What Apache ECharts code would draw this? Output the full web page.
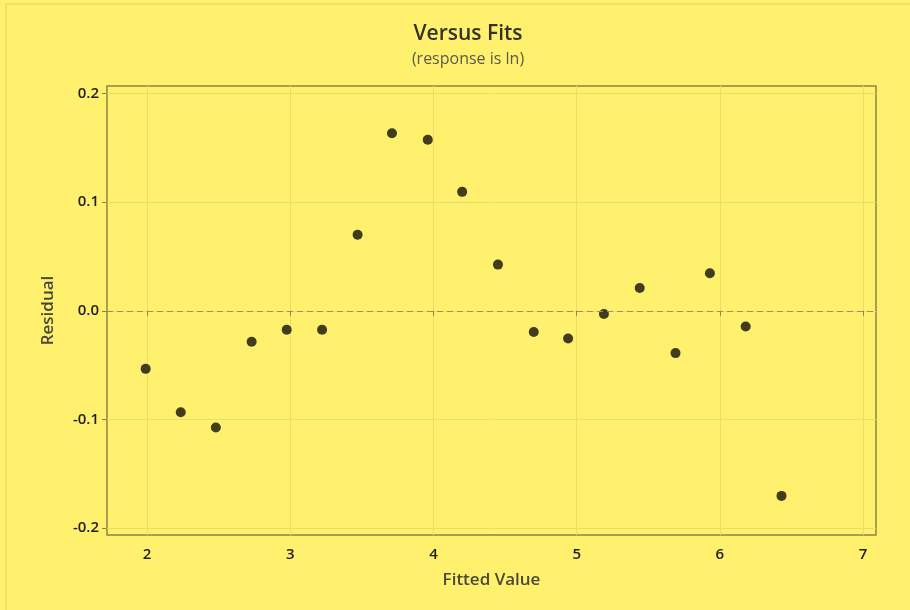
<!DOCTYPE html>
<html>
<head>
<meta charset="utf-8">
<script src="https://cdn.jsdelivr.net/npm/echarts@6/dist/echarts.min.js"></script>
<style>html,body{margin:0;padding:0;background:#FFF06E;}#c{width:910px;height:610px;}</style>
</head>
<body>
<div id="c"></div>
<script>
const fittedValues = [1.99, 2.235, 2.48, 2.73, 2.975, 3.222, 3.47, 3.71, 3.96, 4.20, 4.45, 4.70, 4.94, 5.19, 5.44, 5.69, 5.93, 6.18, 6.43];
const residuals = [-0.0535, -0.0935, -0.1075, -0.0285, -0.0175, -0.0175, 0.0700, 0.1635, 0.1575, 0.1095, 0.0425, -0.0195, -0.0255, -0.0030, 0.0210, -0.0390, 0.0345, -0.0145, -0.1705];
const xTicks = [2, 3, 4, 5, 6, 7];
const yTicks = [-0.2, -0.1, 0.0, 0.1, 0.2];

const points = fittedValues.map((v, i) => [v, residuals[i]]);
const fontFam = '"Open Sans", "Noto Sans", sans-serif';

const chart = echarts.init(document.getElementById('c'), null, {renderer: 'canvas'});
chart.setOption({
  backgroundColor: '#FFF06E',
  animation: false,
  title: {
    text: 'Versus Fits',
    subtext: '(response is ln)',
    left: 463,
    textAlign: 'center',
    top: 19,
    itemGap: 6,
    textStyle: {fontFamily: fontFam, fontSize: 21, fontWeight: 600, color: '#333328'},
    subtextStyle: {fontFamily: fontFam, fontSize: 16, color: '#5c5a48'}
  },
  graphic: [
    {type: 'line', shape: {x1: 6, y1: 4, x2: 910, y2: 4}, style: {stroke: '#e2d35a', lineWidth: 1}, silent: true},
    {type: 'line', shape: {x1: 6, y1: 4, x2: 6, y2: 610}, style: {stroke: '#e2d35a', lineWidth: 1}, silent: true}
  ],
  grid: {
    left: 107, right: 34, top: 86, bottom: 75,
    show: true, backgroundColor: 'transparent', borderColor: '#8d8545', borderWidth: 1.5
  },
  xAxis: {
    type: 'value', min: 1.72, max: 7.09,
    name: 'Fitted Value', nameLocation: 'middle', nameGap: 37,
    nameTextStyle: {fontFamily: fontFam, fontSize: 17, fontWeight: 600, color: '#4a4836'},
    axisLine: {show: false},
    axisTick: {show: true, customValues: xTicks, length: 5, lineStyle: {color: '#8d8545'}},
    axisLabel: {customValues: xTicks, fontFamily: fontFam, fontSize: 15, fontWeight: 600, color: '#1e1e1a', margin: 12,
      formatter: v => String(v)},
    splitLine: {show: true, lineStyle: {color: '#ebdd68', width: 1}}
  },
  yAxis: {
    type: 'value', min: -0.2065, max: 0.207,
    name: 'Residual', nameLocation: 'middle', nameGap: 50, nameRotate: 90,
    nameTextStyle: {fontFamily: fontFam, fontSize: 17, fontWeight: 600, color: '#4a4836'},
    axisLine: {show: false},
    axisTick: {show: true, customValues: yTicks, length: 5, lineStyle: {color: '#8d8545'}},
    axisLabel: {customValues: yTicks, fontFamily: fontFam, fontSize: 15, fontWeight: 600, color: '#1e1e1a', margin: 8,
      formatter: v => v.toFixed(1)},
    splitLine: {show: true, lineStyle: {color: '#ebdd68', width: 1}}
  },
  series: [{
    type: 'scatter',
    data: points,
    symbol: 'circle',
    symbolSize: 10,
    itemStyle: {color: '#403c1c', opacity: 1},
    markLine: {
      silent: true, symbol: 'none', label: {show: false},
      lineStyle: {color: '#9a9266', type: [6, 4], width: 1},
      data: [{yAxis: 0}]
    }
  }]
});
</script>
</body>
</html>
